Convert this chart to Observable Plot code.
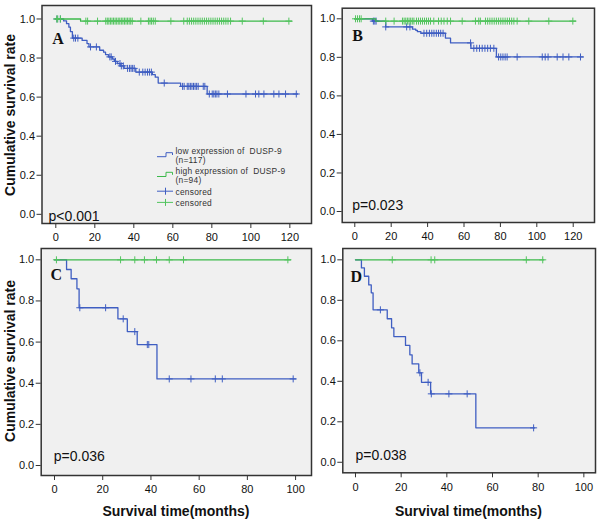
<!DOCTYPE html>
<html>
<head>
<meta charset="utf-8">
<script src="https://cdn.jsdelivr.net/npm/d3@7"></script>
<script src="https://cdn.jsdelivr.net/npm/@observablehq/plot@0.6"></script>
<style>
  body { margin: 0; background: #fff; }
  #wrap { position: relative; width: 600px; height: 524px; overflow: hidden; background: #fff; }
  .panel { position: absolute; }
  #overlay { position: absolute; left: 0; top: 0; pointer-events: none; }
  #overlay text { font-family: "Liberation Sans", Arial, sans-serif; }
</style>
</head>
<body>
<div id="wrap">
  <div class="panel" id="pA" style="left:0px;top:0px"></div>
  <div class="panel" id="pB" style="left:300px;top:0px"></div>
  <div class="panel" id="pC" style="left:0px;top:245px"></div>
  <div class="panel" id="pD" style="left:300px;top:245px"></div>
  <svg id="overlay" width="600" height="524"></svg>
</div>
<script>
// ---------- data ----------
// Panel A
const A_low_t   = [4, 5.5, 6.7, 7.5, 8.5, 13.5, 16, 17, 22.5, 24.5, 25.5, 27, 29, 30, 31.5, 33, 35, 41, 49.5, 51, 52.5, 64, 77.6];
const A_low_s   = [0.99, 0.976, 0.958, 0.935, 0.902, 0.89, 0.874, 0.857, 0.84, 0.83, 0.818, 0.806, 0.795, 0.783, 0.772, 0.76, 0.747, 0.728, 0.715, 0.702, 0.672, 0.655, 0.616];
const A_low_end = 124;
const A_low_cens = [0.6, 2.3, 9.2, 10.1, 11.3, 17.8, 20.8, 27.7, 28.4, 30.6, 32.9, 33.6, 34.6, 36.8, 37.8, 38.6, 39.4, 40.2, 42.8, 44.6, 45.8, 47, 48, 49, 55.6, 65, 65.8, 67.4, 68.2, 69, 69.8, 70.6, 71.4, 72.2, 73, 75.6, 76.4, 78.7, 80.2, 81, 81.8, 82.6, 83.6, 88, 97.5, 102.4, 104.1, 106.7, 111.8, 114.4, 117.8, 123.3];
const A_high_t   = [12.7];
const A_high_s   = [0.989];
const A_high_end = 121;
const A_high_cens = [0.5, 1, 2.4, 15.4, 16.3, 21.4, 25.6, 26.4, 27.2, 28, 28.8, 29.6, 30.4, 31.2, 32, 32.8, 33.6, 34.4, 35.2, 36, 36.8, 37.6, 38.4, 39.2, 43.6, 47.5, 48.3, 49.1, 50, 51, 59, 65.6, 67.4, 68.5, 69.6, 70.7, 71.8, 72.9, 74, 75.1, 76.2, 77.3, 78.4, 79.5, 80.6, 81.7, 82.8, 83.9, 85, 86.1, 87.2, 88.3, 89.6, 95.6, 106.4, 119.5];

// Panel B
const B_low_t   = [9.7, 17, 31.7, 33.5, 34.4, 36.3, 49.8, 52.6, 63.8, 77.8];
const B_low_s   = [0.988, 0.958, 0.946, 0.94, 0.933, 0.925, 0.9, 0.875, 0.847, 0.802];
const B_low_end = 125.3;
const B_low_cens = [10.2, 11, 11.7, 17, 28.5, 30.3, 38, 39.5, 41, 42.3, 43.5, 44.8, 46, 47.2, 48.5, 63.6, 65.4, 67, 68.5, 70, 71.5, 73, 74.5, 76.4, 79, 80.2, 81.4, 82.6, 83.7, 89.2, 103, 104.6, 106.2, 111.2, 114.4, 117.6, 124];
const B_high_t   = [11.5];
const B_high_s   = [0.988];
const B_high_end = 121.3;
const B_high_cens = [0.4, 1.5, 2.6, 3.5, 17, 21.6, 26.2, 27.1, 28, 28.9, 29.8, 30.7, 31.6, 32.5, 33.9, 35, 36.1, 37.2, 38.3, 39.4, 40.5, 41.6, 43.4, 46, 47.5, 49, 50.8, 52.6, 59, 66.3, 68.1, 69, 71.8, 73, 74.2, 75.4, 76.6, 77.8, 79, 80.2, 81.4, 82.6, 83.8, 85, 86.2, 87.4, 89.2, 95.6, 106.6, 119.8];

// Panel C
const C_low_t   = [5, 6.9, 9.3, 10.2, 26.3, 30.2, 34.3, 42.5];
const C_low_s   = [0.953, 0.908, 0.859, 0.767, 0.713, 0.651, 0.588, 0.421];
const C_low_end = 100;
const C_low_cens = [10.5, 21.2, 28.5, 33.3, 38.5, 39.1, 47.6, 56.6, 66.7, 69.6, 99];
const C_high_t   = [];
const C_high_s   = [];
const C_high_end = 97.9;
const C_high_cens = [0.8, 27.4, 33.3, 37.3, 42.3, 47.6, 53.5, 96.8];

// Panel D
const D_low_t   = [2.6, 3.9, 5.8, 6.9, 7.7, 13.9, 15.8, 16.8, 21.9, 23.8, 24.8, 27.7, 28.9, 32.9, 52.7];
const D_low_s   = [0.96, 0.919, 0.876, 0.837, 0.753, 0.709, 0.664, 0.621, 0.577, 0.531, 0.486, 0.442, 0.395, 0.338, 0.17];
const D_low_end = 78.5;
const D_low_cens = [10.9, 28.2, 31.8, 33.2, 40.9, 48.9, 78];
const D_high_t   = [];
const D_high_s   = [];
const D_high_end = 82.5;
const D_high_cens = [16.1, 33.1, 34.7, 74.8, 82];

// Tick values and texts
const yTicks = [0, 0.2, 0.4, 0.6, 0.8, 1.0];
const xTicks120 = [0, 20, 40, 60, 80, 100, 120];
const xTicks100 = [0, 20, 40, 60, 80, 100];
const panelLetters = ["A", "B", "C", "D"];
const pValues = ["p<0.001", "p=0.023", "p=0.036", "p=0.038"];
const legendLabels = [["low expression of  DUSP-9", "(n=117)"], ["high expression of  DUSP-9", "(n=94)"], ["censored"], ["censored"]];
const yTitle = "Cumulative survival rate";
const xTitle = "Survival time(months)";

// ---------- helpers ----------
const blue = "#3f5ec2";
const green = "#3cb94b";
const greenCens = "#52c45e";
const frameColor = "#333";

function kmLine(ts, ss, end) {
  const pts = [{t: 0, s: 1}];
  ts.forEach((t, i) => pts.push({t, s: ss[i]}));
  pts.push({t: end, s: ss.length ? ss[ss.length - 1] : 1});
  return pts;
}
function censPts(cens, ts, ss) {
  return cens.map(t => {
    let s = 1;
    for (let i = 0; i < ts.length; i++) if (ts[i] <= t) s = ss[i];
    return {t, s};
  });
}

function panel(cfg) {
  const lowLine = kmLine(cfg.low[0], cfg.low[1], cfg.low[2]);
  const highLine = kmLine(cfg.high[0], cfg.high[1], cfg.high[2]);
  const lowC = censPts(cfg.low[3], cfg.low[0], cfg.low[1]);
  const highC = censPts(cfg.high[3], cfg.high[0], cfg.high[1]);
  return Plot.plot({
    width: cfg.width, height: cfg.height,
    marginLeft: cfg.m[3], marginRight: cfg.m[1], marginTop: cfg.m[0], marginBottom: cfg.m[2],
    x: {domain: cfg.xDomain},
    y: {domain: cfg.yDomain},
    style: {fontFamily: "'Liberation Sans', Arial, sans-serif", fontSize: "11px", color: "#111", background: "transparent", overflow: "visible"},
    marks: [
      Plot.frame({fill: "#f0f0f0", stroke: null}),
      Plot.line(lowLine, {x: "t", y: "s", curve: "step-after", stroke: blue, strokeWidth: 1.3}),
      Plot.dot(lowC, {x: "t", y: "s", symbol: "plus", r: 2.4, stroke: blue, strokeWidth: 1}),
      Plot.line(highLine, {x: "t", y: "s", curve: "step-after", stroke: green, strokeWidth: 1.3}),
      Plot.dot(highC, {x: "t", y: "s", symbol: "plus", r: 2.4, stroke: greenCens, strokeWidth: 1}),
      Plot.frame({stroke: frameColor, strokeWidth: 1.5}),
      Plot.axisX({ticks: cfg.xTicks, tickSize: 5, tickPadding: 5, tickFormat: "d", label: null, stroke: frameColor}),
      Plot.axisY({ticks: yTicks, tickSize: 5, tickPadding: 2, tickFormat: d3.format(".1f"), label: null, stroke: frameColor}),
      Plot.text([cfg.letter], {frameAnchor: "top-left", lineAnchor: "bottom", textAnchor: "start", dx: cfg.letterD[0], dy: cfg.letterD[1],
        fontFamily: "'Liberation Serif', 'Times New Roman', serif", fontWeight: "bold", fontSize: 16, fill: "#111"}),
      Plot.text([cfg.p], {frameAnchor: "bottom-left", lineAnchor: "bottom", textAnchor: "start", dx: cfg.pD[0], dy: cfg.pD[1],
        fontSize: 14, fill: "#111"})
    ]
  });
}

// ---------- panels ----------
document.getElementById("pA").appendChild(panel({
  low: [A_low_t, A_low_s, A_low_end, A_low_cens], high: [A_high_t, A_high_s, A_high_end, A_high_cens],
  width: 320, height: 250, m: [5, 9, 27, 41.5],
  xDomain: [-7.08, 131.1], yDomain: [-0.047, 1.069], xTicks: xTicks120,
  letter: panelLetters[0], letterD: [10.2, 38.3], p: pValues[0], pD: [6.5, -3]
}));
document.getElementById("pB").appendChild(panel({
  low: [B_low_t, B_low_s, B_low_end, B_low_cens], high: [B_high_t, B_high_s, B_high_end, B_high_cens],
  width: 300, height: 250, m: [7.7, 6, 28, 41.7],
  xDomain: [-6.92, 131.7], yDomain: [-0.057, 1.055], xTicks: xTicks120,
  letter: panelLetters[1], letterD: [10, 33], p: pValues[1], pD: [10, -12.5]
}));
document.getElementById("pC").appendChild(panel({
  low: [C_low_t, C_low_s, C_low_end, C_low_cens], high: [C_high_t, C_high_s, C_high_end, C_high_cens],
  width: 320, height: 279, m: [3, 9, 49, 40.7],
  xDomain: [-5.52, 106.6], yDomain: [-0.0486, 1.055], xTicks: xTicks100,
  letter: panelLetters[2], letterD: [9.3, 31], p: pValues[2], pD: [12.6, -14.3]
}));
document.getElementById("pD").appendChild(panel({
  low: [D_low_t, D_low_s, D_low_end, D_low_cens], high: [D_high_t, D_high_s, D_high_end, D_high_cens],
  width: 300, height: 279, m: [3, 5, 51.7, 42.3],
  xDomain: [-5.56, 105.1], yDomain: [-0.052, 1.056], xTicks: xTicks100,
  letter: panelLetters[3], letterD: [7.7, 33], p: pValues[3], pD: [12.7, -13]
}));

// ---------- overlay: axis titles and legend ----------
const ov = d3.select("#overlay");
ov.append("text").attr("transform", "translate(15,115) rotate(-90)").attr("text-anchor", "middle")
  .attr("font-size", 14).attr("font-weight", "bold").attr("fill", "#111").text(yTitle);
ov.append("text").attr("transform", "translate(15,361) rotate(-90)").attr("text-anchor", "middle")
  .attr("font-size", 14).attr("font-weight", "bold").attr("fill", "#111").text(yTitle);
ov.append("text").attr("x", 176).attr("y", 516).attr("text-anchor", "middle")
  .attr("font-size", 14).attr("font-weight", "bold").attr("fill", "#111").text(xTitle);
ov.append("text").attr("x", 468.5).attr("y", 516).attr("text-anchor", "middle")
  .attr("font-size", 14).attr("font-weight", "bold").attr("fill", "#111").text(xTitle);

// legend (panel A)
const lg = ov.append("g");
lg.append("path").attr("d", "M157,156.7H166V152.7H172.5V155").attr("fill", "none").attr("stroke", blue).attr("stroke-width", 1);
lg.append("path").attr("d", "M157,176.5H166V172.3H172.5V174.8").attr("fill", "none").attr("stroke", green).attr("stroke-width", 1);
lg.append("path").attr("d", "M157,191.2H173M165.5,187.7V194.7").attr("fill", "none").attr("stroke", blue).attr("stroke-width", 1);
lg.append("path").attr("d", "M157,202.4H173M165.5,198.9V205.9").attr("fill", "none").attr("stroke", greenCens).attr("stroke-width", 1);
const legRows = [[153.6, 163.4], [173.8, 183.4], [194.6], [205.6]];
legendLabels.forEach((lines, i) => {
  lines.forEach((s, j) => {
    lg.append("text").attr("x", 175.5).attr("y", legRows[i][j]).attr("font-size", 8.4).attr("fill", "#333")
      .attr("letter-spacing", 0.25).style("white-space", "pre").text(s);
  });
});
</script>
</body>
</html>
